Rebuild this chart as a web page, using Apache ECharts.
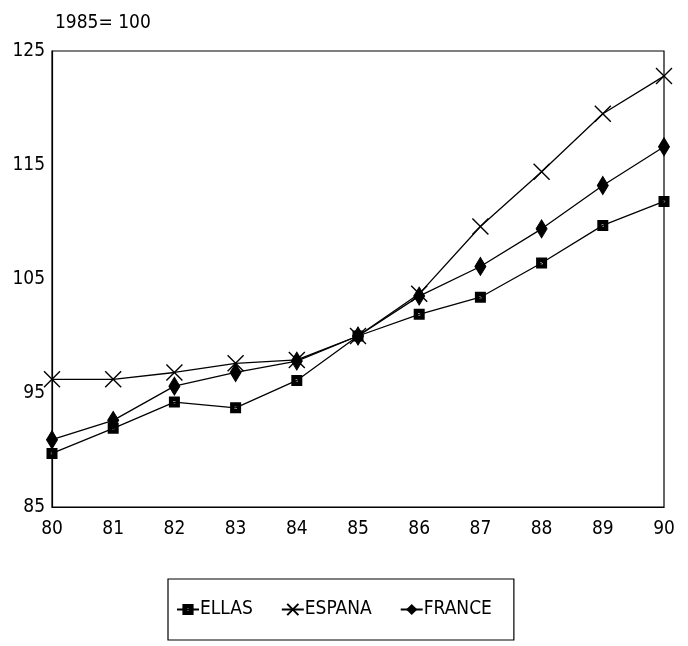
<!DOCTYPE html>
<html><head><meta charset="utf-8">
<script src="https://cdn.jsdelivr.net/npm/echarts@6/dist/echarts.min.js"></script>
<style>html,body{margin:0;padding:0;background:#fff}#c{width:688px;height:646px}</style>
</head><body><div id="c"></div>
<script>
const years = ['80','81','82','83','84','85','86','87','88','89','90'];
const ellas  = [89.7, 91.9, 94.2, 93.7, 96.1, 100, 101.9, 103.4, 106.4, 109.7, 111.8];
const espana = [96.2, 96.2, 96.8, 97.6, 97.9, 100, 103.7, 109.6, 114.4, 119.5, 122.8];
const france = [90.9, 92.6, 95.6, 96.8, 97.8, 100, 103.5, 106.1, 109.4, 113.2, 116.6];
const yTicks = [85, 95, 105, 115, 125];
const unitLabel = '1985= 100';

const FONT = '"DejaVu Sans Condensed", "Liberation Sans Narrow", sans-serif';
const chart = echarts.init(document.getElementById('c'), null, {renderer:'canvas'});
chart.setOption({
  animation: false,
  backgroundColor: '#fff',
  title: {text: unitLabel, left: 50, top: 9, textStyle:{fontFamily:FONT, fontSize:19, fontWeight:'normal', color:'#000'}},
  grid: {left: 52, right: 24, top: 51, bottom: 139, show: true, borderColor:'#000', borderWidth:1.2, containLabel:false},
  xAxis: {type:'category', data: years, boundaryGap:false,
    axisLine:{lineStyle:{color:'#000', width:1.2}}, axisTick:{show:false},
    axisLabel:{color:'#000', fontFamily:FONT, fontSize:19, margin:13}, splitLine:{show:false}},
  yAxis: {type:'value', min: yTicks[0], max: yTicks[yTicks.length-1], interval: 10,
    axisLine:{show:true, lineStyle:{color:'#000', width:1.2}}, axisTick:{show:false},
    axisLabel:{color:'#000', fontFamily:FONT, fontSize:19, margin:7}, splitLine:{show:false}},
  legend: {left: 168, top: 579, orient:'horizontal', padding:[21, 22, 21, 8],
    borderColor:'#000', borderWidth:1.2, itemGap: 28, itemWidth: 22, itemHeight: 14,
    textStyle:{fontFamily:FONT, fontSize:19, color:'#000', padding:[0,0,0,-4]},
    data:['ELLAS','ESPANA','FRANCE']},
  series: [
    {name:'ELLAS', type:'line', data: ellas, symbol:'path://M0,0H10V10H0Z M4,4V6H6V4Z', symbolSize:11,
      lineStyle:{color:'#000', width:1.3}, itemStyle:{color:'#000', borderColor:'#000', borderWidth:0}},
    {name:'ESPANA', type:'line', data: espana, symbol:'path://M0,0L10,10M10,0L0,10', symbolSize:[16,16],
      lineStyle:{color:'#000', width:1.3}, itemStyle:{color:'none', borderColor:'#000', borderWidth:1.4}},
    {name:'FRANCE', type:'line', data: france, symbol:'diamond', symbolSize:[11,18],
      lineStyle:{color:'#000', width:1.3}, itemStyle:{color:'#000', borderColor:'#000'}}
  ]
});
</script></body></html>
